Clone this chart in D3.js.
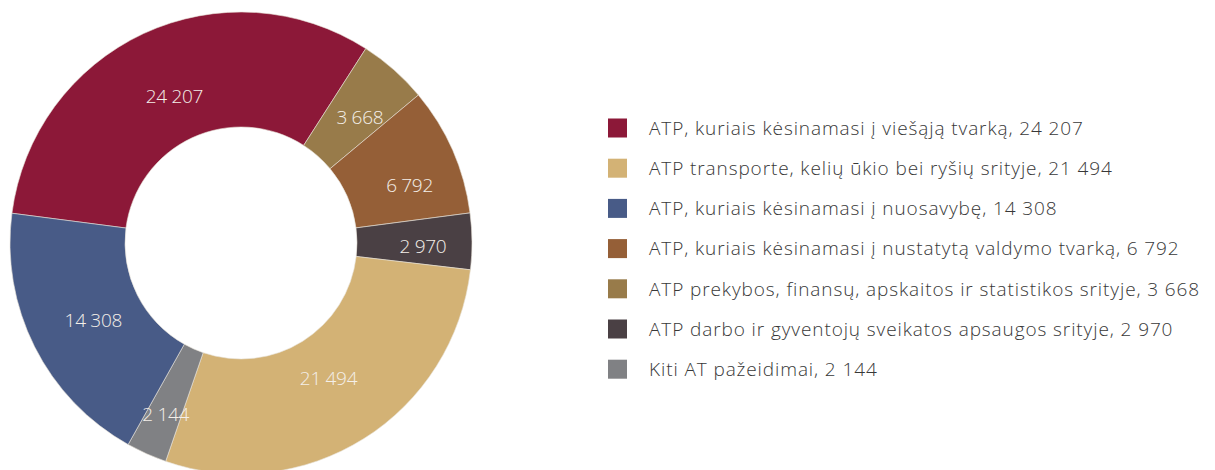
<!DOCTYPE html>
<html>
<head>
<meta charset="utf-8">
<script src="https://cdn.jsdelivr.net/npm/d3@7"></script>
<style>
  html, body { margin: 0; padding: 0; background: #fff; }
  svg { display: block; }
</style>
</head>
<body>
<svg id="chart" width="1215" height="470"></svg>
<script>
// Administrative offences by category (slice order, clockwise)
const sliceNames = [
  "ATP, kuriais kėsinamasi į viešąją tvarką",
  "ATP prekybos, finansų, apskaitos ir statistikos srityje",
  "ATP, kuriais kėsinamasi į nustatytą valdymo tvarką",
  "ATP darbo ir gyventojų sveikatos apsaugos srityje",
  "ATP transporte, kelių ūkio bei ryšių srityje",
  "Kiti AT pažeidimai",
  "ATP, kuriais kėsinamasi į nuosavybę"
];
const sliceValues = [24207, 3668, 6792, 2970, 21494, 2144, 14308];
const sliceColors = ["#8c1838", "#987b4a", "#955f37", "#4a4044", "#d3b275", "#808184", "#485b87"];

// Legend order
const legendOrder = [0, 4, 6, 2, 1, 3, 5];

// Small hand adjustments of the value labels around their arc centroids
const labelShift = [[6, 9], [5, 3], [11, 11], [10, 4], [-4, -10], [-5, 14], [6, 0]];

const fmt = v => d3.format(",")(v).replace(/,/g, " ");

const svg = d3.select("#chart");
const cx = 241, cy = 243, rOuter = 231, rInner = 116, rLabel = 172;

const pie = d3.pie().sort(null).value(d => d)
  .startAngle(-82.6 * Math.PI / 180)
  .endAngle((360 - 82.6) * Math.PI / 180);
const arcs = pie(sliceValues);

const arc = d3.arc().innerRadius(rInner).outerRadius(rOuter);
const labelArc = d3.arc().innerRadius(rLabel).outerRadius(rLabel);

const g = svg.append("g").attr("transform", `translate(${cx},${cy})`);

g.selectAll("path.slice")
  .data(arcs)
  .join("path")
  .attr("class", "slice")
  .attr("d", arc)
  .attr("fill", (d, i) => sliceColors[i])
  .attr("stroke", "#e8e2d8")
  .attr("stroke-width", 0.6);

g.selectAll("text.val")
  .data(arcs)
  .join("text")
  .attr("class", "val")
  .attr("transform", (d, i) => {
    const [x, y] = labelArc.centroid(d);
    return `translate(${x + labelShift[i][0]},${y + labelShift[i][1]})`;
  })
  .attr("text-anchor", "middle")
  .attr("dy", "0.36em")
  .attr("fill", "#f4efe9")
  .style("font-family", "'Open Sans', sans-serif")
  .style("font-weight", 300)
  .style("font-size", "19px")
  .style("letter-spacing", "-0.3px")
  .text(d => fmt(d.data));

// Legend
const legend = svg.append("g").attr("transform", "translate(608,128)");
const rowH = 40.2;
const items = legend.selectAll("g.item")
  .data(legendOrder)
  .join("g")
  .attr("class", "item")
  .attr("transform", (d, i) => `translate(0,${i * rowH})`);

items.append("rect")
  .attr("x", 0).attr("y", -9.5)
  .attr("width", 19).attr("height", 19)
  .attr("fill", d => sliceColors[d]);

items.append("text")
  .attr("x", 41)
  .attr("y", 0)
  .attr("dy", "0.36em")
  .attr("fill", "#383838")
  .style("font-family", "'Open Sans', sans-serif")
  .style("font-weight", 300)
  .style("font-size", "19px")
  .style("letter-spacing", "0.9px")
  .text(d => `${sliceNames[d]}, ${fmt(sliceValues[d])}`);
</script>
</body>
</html>
